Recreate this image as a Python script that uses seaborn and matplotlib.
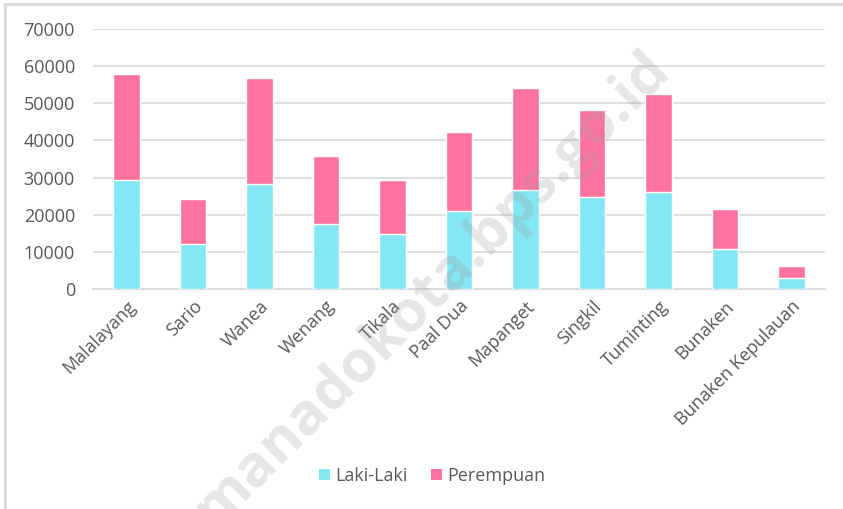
import matplotlib
matplotlib.use("Agg")
import matplotlib.pyplot as plt
import seaborn as sns
import pandas as pd
from matplotlib.lines import Line2D
from matplotlib.patches import Patch

kecamatan = ["Malalayang", "Sario", "Wanea", "Wenang", "Tikala", "Paal Dua",
             "Mapanget", "Singkil", "Tuminting", "Bunaken", "Bunaken Kepulauan"]
laki_laki = [29400, 12100, 28300, 17600, 14800, 20900, 26700, 24900, 26200, 10700, 3050]
perempuan = [28550, 12150, 28500, 18250, 14600, 21500, 27300, 23350, 26300, 10850, 3050]
yticks = [0, 10000, 20000, 30000, 40000, 50000, 60000, 70000]

c_laki = "#86E7F4"
c_perem = "#FF73A1"
txt = "#595959"

sns.set_theme(style="white")
plt.rcParams["font.family"] = ["Open Sans", "DejaVu Sans"]

df = pd.DataFrame({"kec": kecamatan, "laki": laki_laki, "perem": perempuan})
df["total"] = df["laki"] + df["perem"]

fig = plt.figure(figsize=(8.43, 5.09), dpi=100)
ax = fig.add_axes([93/843, 1-289/509, (825-93)/843, (289-29)/509])

sns.barplot(data=df, x="kec", y="total", color=c_perem, saturation=1, width=0.4, ax=ax, zorder=3)
sns.barplot(data=df, x="kec", y="laki", color=c_laki, saturation=1, width=0.4, ax=ax, zorder=3)

ax.set_ylim(0, 70000)
ax.set_yticks(yticks)
ax.set_yticklabels([str(v) for v in yticks], fontsize=13, color=txt)
ax.set_xlim(-0.5, len(kecamatan)-0.5)
ax.set_xlabel("")
ax.set_ylabel("")
ax.yaxis.grid(True, color="#D9D9D9", linewidth=1.2, zorder=0)
ax.set_axisbelow(True)
for s in ["top", "right", "left"]:
    ax.spines[s].set_visible(False)
ax.spines["bottom"].set_color("#D9D9D9")
ax.spines["bottom"].set_linewidth(1.2)
ax.tick_params(axis="y", length=0, pad=13)
ax.tick_params(axis="x", length=0, pad=6)
ax.set_xticks(range(len(kecamatan)))
ax.set_xticklabels(kecamatan, rotation=45, ha="right", rotation_mode="anchor",
                   fontsize=13, color=txt)

handles = [Patch(facecolor=c_laki, edgecolor="none"), Patch(facecolor=c_perem, edgecolor="none")]
fig.legend(handles, ["Laki-Laki", "Perempuan"], loc="center", bbox_to_anchor=(432/843, 1-476/509),
           ncol=2, frameon=False, fontsize=13, labelcolor=txt, handlelength=0.6,
           handleheight=0.6, handletextpad=0.3, columnspacing=1.3)

# watermark
fig.text(432/843, 1-290/509, "manadokota.bps.go.id", rotation=45, fontsize=42,
         fontweight="bold", color="#9A9A9A", alpha=0.25, ha="center", va="center", zorder=10)

# outer frame lines (top and left)
fig.add_artist(Line2D([4/843, 1], [1-4/509, 1-4/509], color="#D9D9D9", linewidth=2, transform=fig.transFigure))
fig.add_artist(Line2D([5/843, 5/843], [0, 1-4/509], color="#D9D9D9", linewidth=2, transform=fig.transFigure))

fig.savefig("out.png", dpi=100)
